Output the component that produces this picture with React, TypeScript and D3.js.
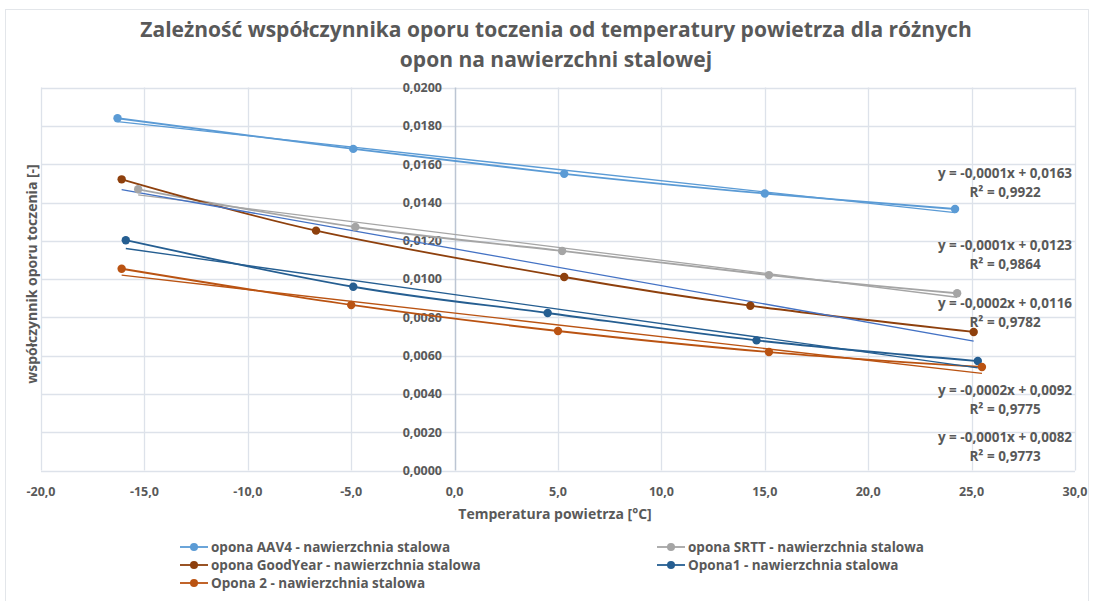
import React, { useEffect, useRef } from "react";
import * as d3 from "d3";

// temperatures [°C] and rolling resistance coefficients
const seriesNames = [
  "opona AAV4 - nawierzchnia stalowa",
  "opona SRTT - nawierzchnia stalowa",
  "opona GoodYear - nawierzchnia stalowa",
  "Opona1 - nawierzchnia stalowa",
  "Opona 2 - nawierzchnia stalowa",
];

const aav4X = [-16.3, -4.9, 5.3, 15.0, 24.2];
const aav4Y = [0.0184, 0.0168, 0.0155, 0.01447, 0.01366];

const srttX = [-15.3, -4.8, 5.2, 15.2, 24.3];
const srttY = [0.01469, 0.01272, 0.01147, 0.01021, 0.00926];

const goodyearX = [-16.1, -6.7, 5.3, 14.3, 25.1];
const goodyearY = [0.01521, 0.01253, 0.01011, 0.00861, 0.00724];

const opona1X = [-15.9, -4.9, 4.5, 14.6, 25.3];
const opona1Y = [0.01203, 0.0096, 0.00823, 0.0068, 0.00572];

const opona2X = [-16.1, -5.0, 5.0, 15.2, 25.5];
const opona2Y = [0.01054, 0.00865, 0.00729, 0.00619, 0.00541];

const colors = ["#5B9BD5", "#A5A5A5", "#8E400D", "#255E91", "#BA5312"];
const trendColors = ["#5B9BD5", "#A5A5A5", "#4472C4", "#255E91", "#BA5312"];

const eqLabels = [
  "y = -0,0001x + 0,0163",
  "y = -0,0001x + 0,0123",
  "y = -0,0002x + 0,0116",
  "y = -0,0002x + 0,0092",
  "y = -0,0001x + 0,0082",
];
const r2Labels = ["R² = 0,9922", "R² = 0,9864", "R² = 0,9782", "R² = 0,9775", "R² = 0,9773"];
// where the equation boxes were dragged to (data units)
const eqAnchorY = [0.01556, 0.01178, 0.00875, 0.00421, 0.00175];

const xTicks = [-20, -15, -10, -5, 0, 5, 10, 15, 20, 25, 30];
const yTicks = d3.range(0, 0.0201, 0.002);

const FONT = "'Liberation Sans Narrow', 'Open Sans', sans-serif";

const App = () => {
  const ref = useRef(null);

  useEffect(() => {
    const W = 1094,
      H = 601;
    const margin = { left: 41, right: 1075, top: 87.6, bottom: 470.6 };

    const svg = d3.select(ref.current).attr("width", W).attr("height", H);
    svg.selectAll("*").remove();

    const x = d3.scaleLinear().domain([-20, 30]).range([margin.left, margin.right]);
    const y = d3.scaleLinear().domain([0, 0.02]).range([margin.bottom, margin.top]);

    svg.append("rect").attr("width", W).attr("height", H).attr("fill", "#fff");
    svg
      .append("rect")
      .attr("x", 5.5)
      .attr("y", 9.5)
      .attr("width", 1083)
      .attr("height", 600)
      .attr("fill", "none")
      .attr("stroke", "#E3E6EA");

    // grid
    svg
      .append("g")
      .selectAll("line")
      .data(yTicks)
      .enter()
      .append("line")
      .attr("x1", margin.left)
      .attr("x2", margin.right)
      .attr("y1", (d) => Math.round(y(d)) + 0.5)
      .attr("y2", (d) => Math.round(y(d)) + 0.5)
      .attr("stroke", "#DDE2EA")
      .attr("stroke-width", 1.3);

    svg
      .append("g")
      .selectAll("line")
      .data(xTicks.filter((d) => d !== 0))
      .enter()
      .append("line")
      .attr("x1", (d) => Math.round(x(d)) + 0.5)
      .attr("x2", (d) => Math.round(x(d)) + 0.5)
      .attr("y1", margin.top)
      .attr("y2", margin.bottom)
      .attr("stroke", "#DDE2EA")
      .attr("stroke-width", 1.3);

    // vertical axis at x = 0
    svg
      .append("line")
      .attr("x1", Math.round(x(0)) + 0.5)
      .attr("x2", Math.round(x(0)) + 0.5)
      .attr("y1", margin.top)
      .attr("y2", margin.bottom)
      .attr("stroke", "#BCC5D3")
      .attr("stroke-width", 1.5);

    // tick labels
    svg
      .append("g")
      .selectAll("text")
      .data(yTicks)
      .enter()
      .append("text")
      .attr("x", 442)
      .attr("y", (d) => y(d))
      .attr("dy", "0.35em")
      .attr("text-anchor", "end")
      .attr("font-family", FONT)
      .attr("font-size", 12.5)
      .attr("font-weight", "bold")
      .attr("fill", "#595959")
      .text((d) => d3.format(".4f")(d).replace(".", ","));

    svg
      .append("g")
      .selectAll("text")
      .data(xTicks)
      .enter()
      .append("text")
      .attr("x", (d) => x(d))
      .attr("y", 492)
      .attr("dy", "0.35em")
      .attr("text-anchor", "middle")
      .attr("font-family", FONT)
      .attr("font-size", 12.5)
      .attr("font-weight", "bold")
      .attr("fill", "#595959")
      .text((d) => d3.format(".1f")(d).replace(".", ",").replace("−", "-"));

    // titles
    const title = svg
      .append("text")
      .attr("text-anchor", "middle")
      .attr("font-family", FONT)
      .attr("font-size", 21)
      .attr("font-weight", "bold")
      .attr("fill", "#595959");
    title
      .append("tspan")
      .attr("x", 556)
      .attr("y", 37)
      .text("Zależność współczynnika oporu toczenia od temperatury powietrza dla różnych");
    title.append("tspan").attr("x", 556).attr("y", 67).text("opon na nawierzchni stalowej");

    svg
      .append("text")
      .attr("x", 555)
      .attr("y", 514)
      .attr("dy", "0.35em")
      .attr("text-anchor", "middle")
      .attr("font-family", FONT)
      .attr("font-size", 14)
      .attr("font-weight", "bold")
      .attr("fill", "#595959")
      .text("Temperatura powietrza [°C]");

    svg
      .append("text")
      .attr("transform", "translate(32,274) rotate(-90)")
      .attr("dy", "0.35em")
      .attr("text-anchor", "middle")
      .attr("font-family", FONT)
      .attr("font-size", 14)
      .attr("font-weight", "bold")
      .attr("fill", "#595959")
      .text("współczynnik oporu toczenia [-]");

    const series = [
      [aav4X, aav4Y],
      [srttX, srttY],
      [goodyearX, goodyearY],
      [opona1X, opona1Y],
      [opona2X, opona2Y],
    ].map(([xs, ys]) => xs.map((v, i) => [v, ys[i]]));

    const line = d3
      .line()
      .x((d) => x(d[0]))
      .y((d) => y(d[1]))
      .curve(d3.curveCardinal.tension(0));

    // series lines
    series.forEach((pts, i) => {
      svg
        .append("path")
        .datum(pts)
        .attr("d", line)
        .attr("fill", "none")
        .attr("stroke", colors[i])
        .attr("stroke-width", 1.8);
    });

    // linear trendlines (least squares)
    series.forEach((pts, i) => {
      const mx = d3.mean(pts, (d) => d[0]);
      const my = d3.mean(pts, (d) => d[1]);
      const sxy = d3.sum(pts, (d) => (d[0] - mx) * (d[1] - my));
      const sxx = d3.sum(pts, (d) => (d[0] - mx) ** 2);
      const b = sxy / sxx;
      const a = my - b * mx;
      const [x0, x1] = d3.extent(pts, (d) => d[0]);
      svg
        .append("line")
        .attr("x1", x(x0))
        .attr("y1", y(a + b * x0))
        .attr("x2", x(x1))
        .attr("y2", y(a + b * x1))
        .attr("stroke", trendColors[i])
        .attr("stroke-width", 1.3);
    });

    // markers
    series.forEach((pts, i) => {
      svg
        .append("g")
        .selectAll("circle")
        .data(pts)
        .enter()
        .append("circle")
        .attr("cx", (d) => x(d[0]))
        .attr("cy", (d) => y(d[1]))
        .attr("r", 4.2)
        .attr("fill", colors[i]);
    });

    // trendline equations
    eqLabels.forEach((t, i) => {
      const g = svg
        .append("text")
        .attr("text-anchor", "middle")
        .attr("font-family", FONT)
        .attr("font-size", 13.5)
        .attr("font-weight", "bold")
        .attr("fill", "#595959");
      g.append("tspan").attr("x", 1005).attr("y", y(eqAnchorY[i]) + 5).text(t);
      g.append("tspan").attr("x", 1005).attr("y", y(eqAnchorY[i]) + 24).text(r2Labels[i]);
    });

    // legend
    const legendPos = [
      [180, 547],
      [657, 547],
      [180, 565],
      [657, 565],
      [180, 583],
    ];
    seriesNames.forEach((name, i) => {
      const [lx, ly] = legendPos[i];
      const g = svg.append("g").attr("transform", `translate(${lx},${ly})`);
      g.append("line")
        .attr("x1", 0)
        .attr("x2", 28)
        .attr("stroke", colors[i])
        .attr("stroke-width", 1.8);
      g.append("circle").attr("cx", 14).attr("r", 4).attr("fill", colors[i]);
      g.append("text")
        .attr("x", 31)
        .attr("dy", "0.35em")
        .attr("font-family", FONT)
        .attr("font-size", 13.5)
        .attr("font-weight", "bold")
        .attr("fill", "#595959")
        .text(name);
    });
  }, []);

  return <svg ref={ref} style={{ position: "absolute", left: 0, top: 0 }}></svg>;
};

export default App;
